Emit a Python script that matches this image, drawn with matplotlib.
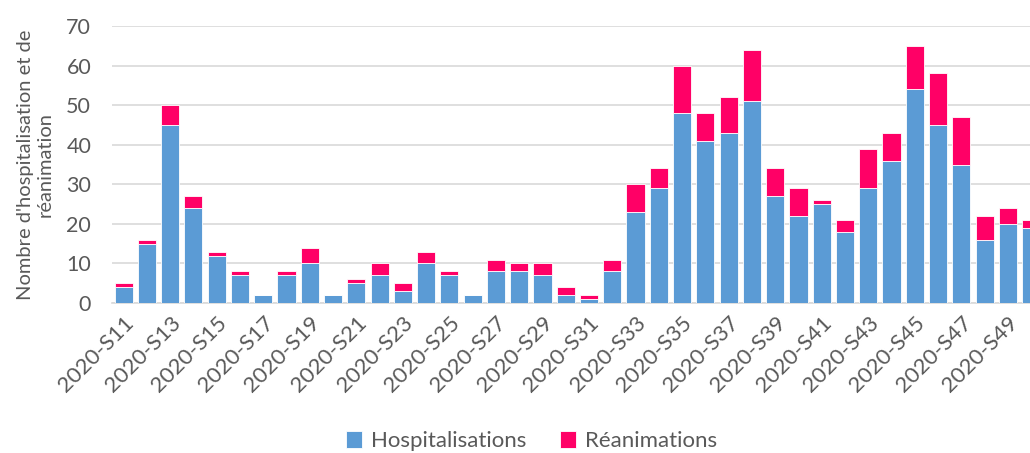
import matplotlib
matplotlib.use("Agg")
import matplotlib.pyplot as plt
import numpy as np

plt.rcParams['font.family'] = ['Lato', 'DejaVu Sans']

weeks = [f"2020-S{w}" for w in range(11, 51)]
hospitalisations = [4, 15, 45, 24, 12, 7, 2, 7, 10, 2,
                    5, 7, 3, 10, 7, 2, 8, 8, 7, 2,
                    1, 8, 23, 29, 48, 41, 43, 51, 27, 22,
                    25, 18, 29, 36, 54, 45, 35, 16, 20, 19]
reanimations = [1, 1, 5, 3, 1, 1, 0, 1, 4, 0,
                1, 3, 2, 3, 1, 0, 3, 2, 3, 2,
                1, 3, 7, 5, 12, 7, 9, 13, 7, 7,
                1, 3, 10, 7, 11, 13, 12, 6, 4, 2]

blue = "#5B9BD5"
pink = "#FF0066"
grey_txt = "#595959"

fig = plt.figure(figsize=(10.3, 4.53), dpi=100)
ax = fig.add_axes([0.1087, 0.331, 0.8913, 0.6116])

x = np.arange(len(weeks))
w = 0.78
ax.bar(x, hospitalisations, w, color=blue, edgecolor="white", linewidth=0.6,
       label="Hospitalisations", zorder=3)
ax.bar(x, reanimations, w, bottom=hospitalisations, color=pink, edgecolor="white",
       linewidth=0.6, label="Réanimations", zorder=3)

ax.set_ylim(0, 70)
ax.set_xlim(-0.5, 38.95)
ax.set_yticks(range(0, 71, 10))
ax.yaxis.grid(True, color="#D9D9D9", linewidth=1.2, zorder=0)
ax.set_axisbelow(True)
for s in ["top", "right", "left"]:
    ax.spines[s].set_visible(False)
ax.spines["bottom"].set_color("#D9D9D9")
ax.spines["bottom"].set_linewidth(1.2)

ax.set_xticks(x[::2])
ax.set_xticklabels(weeks[::2], rotation=45, ha="right", rotation_mode="anchor",
                   fontsize=16, color=grey_txt)
ax.tick_params(axis="x", length=0, pad=7)
ax.tick_params(axis="y", length=0, pad=15, labelsize=15.5, labelcolor=grey_txt)

ax.set_ylabel("Nombre d'hospitalisation et de\nréanimation", fontsize=14.5,
              color=grey_txt, linespacing=1.15)
ax.yaxis.set_label_coords(-0.064, 0.5)

handles, labels = ax.get_legend_handles_labels()
fig.legend(handles, labels, loc="center", bbox_to_anchor=(0.516, 0.026), ncol=2,
           frameon=False, fontsize=16, handlelength=0.75, handleheight=0.75,
           columnspacing=1.5, handletextpad=0.4, labelcolor=grey_txt)

fig.savefig("out.png", dpi=100)
